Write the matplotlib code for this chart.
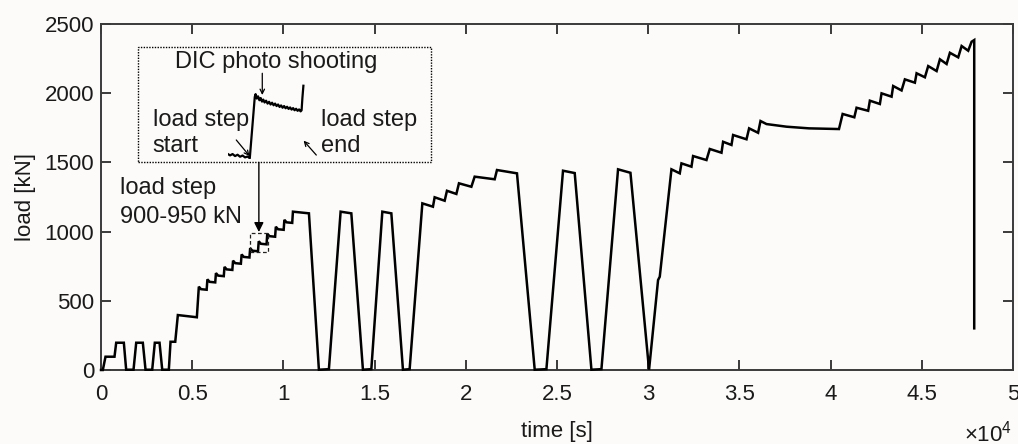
import matplotlib
matplotlib.use("Agg")
import matplotlib.pyplot as plt
from matplotlib.patches import Rectangle

plt.rcParams['font.family'] = ['Liberation Sans', 'DejaVu Sans']
plt.rcParams['mathtext.fontset'] = 'custom'
plt.rcParams['mathtext.rm'] = 'Liberation Sans'

# ---------------- data ----------------
time_s = [0, 100, 247, 740, 833, 1252, 1380, 1783, 1930, 2293, 2441, 2807, 2951, 3209, 3357, 3719,
          3812, 4070, 4213, 5255,
          5364, 5484, 5793, 5833, 5953, 6262, 6302, 6422, 6731, 6771, 6891, 7200,
          7240, 7360, 7669, 7709, 7829, 8138, 8178, 8298, 8607, 8647, 8767, 9076,
          9116, 9236, 9545, 9585, 9705, 10014, 10054, 10174, 10483, 10523, 11400,
          11946, 12495, 13137, 13724, 14360, 14821, 15424, 15918, 16554, 16921,
          17618, 18199, 18292, 18841, 18967, 19483, 19625, 20305, 20486, 21583, 21709, 22806,
          23778, 24419, 25330, 25971, 26887, 27436, 28347, 29027, 30047, 30541, 30634, 31275,
          31730, 31824, 32372, 32460, 33195, 33376, 34018, 34106, 34566, 34654, 35389, 35532,
          36025, 36157, 36486, 37583, 38814, 40459,
          40660, 41300, 41423, 42059, 42153, 42701, 42794, 43343, 43430, 43891, 44072, 44621,
          44714, 45170, 45351, 45812, 45993, 46360, 46541, 46996, 47183, 47544, 47731, 47874, 47874]
load_kN = [0, 0, 96, 96, 197, 197, 2, 2, 197, 197, 2, 2, 197, 197, 2, 2,
           204, 204, 397, 381,
           602, 584, 580, 655, 637, 633, 700, 682, 678, 745, 727, 723,
           790, 772, 768, 835, 817, 813, 880, 862, 858, 930, 912, 908,
           985, 967, 963, 1035, 1017, 1013, 1085, 1067, 1063, 1144, 1132,
           2, 6, 1144, 1132, 2, 6, 1144, 1132, 2, 6,
           1204, 1180, 1248, 1223, 1295, 1272, 1349, 1324, 1397, 1378, 1445, 1421,
           2, 6, 1440, 1423, 2, 6, 1450, 1425, 2, 650, 674, 1450,
           1421, 1493, 1469, 1546, 1517, 1597, 1570, 1649, 1626, 1698, 1667, 1746,
           1714, 1799, 1777, 1758, 1746, 1741,
           1850, 1826, 1895, 1873, 1946, 1922, 1999, 1975, 2052, 2020, 2100, 2076,
           2144, 2115, 2196, 2160, 2245, 2211, 2292, 2259, 2341, 2307, 2372, 2384, 301]

# detail of one load step (900-950 kN) shown in the inset
inset_t = [0, 25, 50, 75, 100, 125, 150, 175, 200, 222, 272,
           280, 292, 305, 318, 331, 344, 357, 370, 385, 400, 415, 430, 445, 460, 475,
           490, 505, 520, 535, 550, 565, 580, 595, 610, 625, 640, 655, 670, 685, 700,
           715, 730, 740, 748, 758]
inset_load = [902.0, 900.6, 901.8, 900.0, 901.2, 899.4, 900.5, 898.8, 899.6, 898.0, 953.0,
              955.5, 951.5, 953.5, 950.0, 952.0, 948.8, 950.6, 948.0, 949.6, 947.0, 948.6,
              946.2, 947.8, 945.5, 947.0, 944.8, 946.2, 944.0, 945.4, 943.3, 944.8, 942.8,
              944.2, 942.2, 943.6, 941.6, 943.0, 941.0, 942.4, 940.5, 941.8, 940.0, 941.0,
              952.0, 963.0]

xtick_vals = [0, 5000, 10000, 15000, 20000, 25000, 30000, 35000, 40000, 45000, 50000]
xtick_labels = ['0', '0.5', '1', '1.5', '2', '2.5', '3', '3.5', '4', '4.5', '5']
ytick_vals = [0, 500, 1000, 1500, 2000, 2500]

# ---------------- figure ----------------
W, H = 1018, 444
fig = plt.figure(figsize=(W / 100, H / 100), dpi=100)
bg = '#fcfbf9'
fig.patch.set_facecolor(bg)

def fx(px):
    return px / W

def fy(py):
    return 1 - py / H

FS = 16
AFS = 17
tc = '#1a1a1a'

ax_l, ax_r, ax_t, ax_b = 101, 1013, 24, 370
ax = fig.add_axes([fx(ax_l), fy(ax_b), (ax_r - ax_l) / W, (ax_b - ax_t) / H])
ax.set_facecolor(bg)

ax.plot(time_s, load_kN, color='black', lw=1.8, clip_on=False, zorder=5,
        solid_joinstyle='miter')

ax.set_xlim(0, 50000)
ax.set_ylim(0, 2500)
ax.set_xticks(xtick_vals)
ax.set_xticklabels(xtick_labels)
ax.set_yticks(ytick_vals)

spine_c = '#3a3a3a'
for s in ax.spines.values():
    s.set_color(spine_c)
    s.set_linewidth(1.4)
ax.tick_params(axis='both', which='both', direction='in', length=7, width=1.4,
               color=spine_c, labelsize=FS, top=True, right=True, labelcolor=tc)
ax.tick_params(axis='x', pad=10)
ax.tick_params(axis='y', pad=5)

fig.text(fx(557), fy(431), 'time [s]', ha='center', va='center', fontsize=FS, color=tc)
fig.text(fx(25), fy(197), 'load [kN]', ha='center', va='center', rotation=90,
         fontsize=FS, color=tc)
fig.text(fx(1012), fy(441), r'$\mathregular{\times10^{4}}$', ha='right', va='baseline',
         fontsize=FS, color=tc)

# big dotted box of the inset
ax.add_patch(Rectangle((2018, 1500), 18073 - 2018, 2336 - 1500, fill=False,
                       edgecolor='black', lw=1.0, linestyle=(0, (1, 1)), zorder=6))
# small dashed box around the 900-950 kN step
ax.add_patch(Rectangle((8145, 855), 9151 - 8145, 987 - 855, fill=False,
                       edgecolor='#222222', lw=0.9, linestyle=(0, (3, 2)), zorder=6))
# arrow from the inset to the small box
ax.annotate('', xy=(8655, 997), xytext=(8655, 1500),
            arrowprops=dict(arrowstyle='-|>', color='black', lw=1.0, mutation_scale=14,
                            shrinkA=0, shrinkB=0), zorder=7)

ax.text(1053, 1270, 'load step', fontsize=AFS, ha='left', va='baseline', color=tc)
ax.text(1053, 1060, '900-950 kN', fontsize=AFS, ha='left', va='baseline', color=tc)

# inset texts
ax.text(9599, 2180, 'DIC photo shooting', fontsize=AFS, ha='center', va='baseline',
        color=tc, zorder=8)
ax.text(2825, 1765, 'load step', fontsize=AFS, ha='left', va='baseline', color=tc, zorder=8)
ax.text(2825, 1575, 'start', fontsize=AFS, ha='left', va='baseline', color=tc, zorder=8)
ax.text(12078, 1765, 'load step', fontsize=AFS, ha='left', va='baseline', color=tc, zorder=8)
ax.text(12078, 1575, 'end', fontsize=AFS, ha='left', va='baseline', color=tc, zorder=8)

arr = dict(arrowstyle='->', color='black', lw=0.9, mutation_scale=8, shrinkA=0, shrinkB=0)
ax.annotate('', xy=(8842, 1987), xytext=(8842, 2144), arrowprops=arr, zorder=8)
ax.annotate('', xy=(8145, 1546), xytext=(7416, 1662), arrowprops=arr, zorder=8)
ax.annotate('', xy=(11107, 1657), xytext=(11804, 1553), arrowprops=arr, zorder=8)

# inset curve
iax = ax.inset_axes([6939, 1524, 4278, 542], transform=ax.transData)
iax.plot(inset_t, inset_load, color='black', lw=1.6)
iax.set_xlim(0, 780)
iax.set_ylim(897.3, 964.5)
iax.axis('off')
iax.patch.set_visible(False)

fig.savefig('out.png', dpi=100, facecolor=bg)
